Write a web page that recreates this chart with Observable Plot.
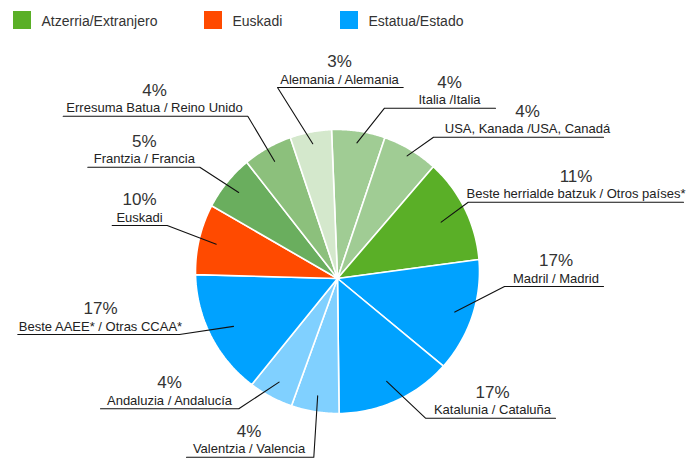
<!DOCTYPE html>
<html><head><meta charset="utf-8">
<script src="https://cdn.jsdelivr.net/npm/d3@7"></script>
<script src="https://cdn.jsdelivr.net/npm/@observablehq/plot@0.6"></script>
<style>body{margin:0;background:#fff;}</style>
</head><body><div id="chart"></div>
<script>
// ---- data ----
const names = ["Italia /Italia", "USA, Kanada /USA, Canadá", "Beste herrialde batzuk / Otros países*", "Madril / Madrid", "Katalunia / Cataluña", "Valentzia / Valencia", "Andaluzia / Andalucía", "Beste AAEE* / Otras CCAA*", "Euskadi", "Frantzia / Francia", "Erresuma Batua / Reino Unido", "Alemania / Alemania"];
const pctLabels = ["4%", "4%", "11%", "17%", "17%", "4%", "4%", "17%", "10%", "5%", "4%", "3%"];
// slice sizes as drawn in the picture (share of the circle, %)
const shares = [5.8, 6.1, 11.6, 13.1, 13.8, 5.7, 5.3, 14.6, 7.9, 6.1, 5.4, 4.5];
const sliceColors = ["#a0cc94", "#a0cc94", "#5aaf27", "#00a2ff", "#00a2ff", "#80d0ff", "#80d0ff", "#00a2ff", "#ff4a00", "#6aae5e", "#8cc07c", "#d4e8cc"];
const legendLabels = ["Atzerria/Extranjero", "Euskadi", "Estatua/Estado"];
const legendColors = ["#5aaf27", "#ff4a00", "#00a2ff"];

// ---- layout ----
const W = 696, H = 459;
const V = [337, 278];   // pie vertex
const C = [337, 271];   // outline circle centre
const R = 142;
const startDeg = -2.3;
// label layout: text centre x, underline y, underline x1/x2, elbow side, anchor distance
const labelLayout = [
  {tx: 449, yu: 107.7, x1: 384, x2: 495, side: "left", dist: 137},
  {tx: 527, yu: 136.7, x1: 433, x2: 603, side: "left", dist: 141},
  {tx: 575.5, yu: 201.7, x1: 467.7, x2: 683, side: "left", dist: 118},
  {tx: 555.5, yu: 286, x1: 504, x2: 603, side: "left", dist: 122},
  {tx: 492, yu: 417.7, x1: 425, x2: 555, side: "left", dist: 114},
  {tx: 248.5, yu: 456.7, x1: 186, x2: 313.3, side: "right", dist: 119},
  {tx: 169, yu: 408.3, x1: 100, x2: 238.3, side: "right", dist: 119},
  {tx: 100, yu: 334, x1: 17.3, x2: 179, side: "right", dist: 114.5},
  {tx: 139, yu: 225, x1: 111.7, x2: 166.7, side: "right", dist: 126},
  {tx: 143.8, yu: 166.7, x1: 87.3, x2: 199.3, side: "right", dist: 131},
  {tx: 154, yu: 115.7, x1: 62.7, x2: 247.3, side: "right", dist: 133},
  {tx: 339, yu: 87, x1: 277, x2: 402.7, side: "left", dist: 137}
];
const legendX = [13, 204, 340];

// ---- geometry ----
const total = d3.sum(shares);
let acc = startDeg;
const slices = shares.map((s, i) => {
  const a0 = acc, a1 = acc + s / total * 360; acc = a1;
  return {i, a0, a1, mid: (a0 + a1) / 2};
});
const rad = d => d * Math.PI / 180;
function hit(phiDeg) {
  const p = rad(phiDeg), d = [Math.sin(p), -Math.cos(p)];
  const w = [V[0] - C[0], V[1] - C[1]];
  const b = d[0] * w[0] + d[1] * w[1], c = w[0] * w[0] + w[1] * w[1] - R * R;
  const t = -b + Math.sqrt(b * b - c);
  return [V[0] + t * d[0], V[1] + t * d[1]];
}
const circAngle = P => Math.atan2(P[0] - C[0], -(P[1] - C[1]));
const slicePts = [];
slices.forEach(s => {
  let t0 = circAngle(hit(s.a0)), t1 = circAngle(hit(s.a1));
  while (t1 < t0) t1 += 2 * Math.PI;
  slicePts.push({k: s.i, x: V[0], y: V[1], fill: sliceColors[s.i]});
  const n = 40;
  for (let j = 0; j <= n; j++) {
    const t = t0 + (t1 - t0) * j / n;
    slicePts.push({k: s.i, x: C[0] + R * Math.sin(t), y: C[1] - R * Math.cos(t), fill: sliceColors[s.i]});
  }
});
const leaderPts = [];
const labels = slices.map(s => {
  const L = labelLayout[s.i];
  const p = rad(s.mid);
  const ax = V[0] + L.dist * Math.sin(p), ay = V[1] - L.dist * Math.cos(p);
  const far = L.side === "left" ? L.x2 : L.x1, elbow = L.side === "left" ? L.x1 : L.x2;
  leaderPts.push({k: s.i, x: far, y: L.yu}, {k: s.i, x: elbow, y: L.yu}, {k: s.i, x: ax, y: ay});
  return {name: names[s.i], pct: pctLabels[s.i], tx: L.tx, yu: L.yu};
});
const legend = legendLabels.map((l, i) => ({label: l, color: legendColors[i], x: legendX[i]}));

const chart = Plot.plot({
  width: W, height: H, margin: 0,
  x: {domain: [0, W], range: [0, W], axis: null},
  y: {domain: [0, H], range: [0, H], axis: null},
  color: {type: "identity"},
  style: {fontFamily: "'Liberation Sans', Arial, sans-serif", background: "#fff"},
  marks: [
    Plot.line(slicePts, {x: "x", y: "y", z: "k", fill: "fill", stroke: "#fff", strokeWidth: 1.6, curve: "linear-closed"}),
    Plot.line(leaderPts, {x: "x", y: "y", z: "k", stroke: "#111", strokeWidth: 1.1}),
    Plot.text(labels, {x: "tx", y: d => d.yu - 4, text: "name", textAnchor: "middle", lineAnchor: "bottom", fontSize: 13, fill: "#222"}),
    Plot.text(labels, {x: "tx", y: d => d.yu - 20.5, text: "pct", textAnchor: "middle", lineAnchor: "bottom", fontSize: 17, fill: "#333"}),
    Plot.rect(legend, {x1: "x", x2: d => d.x + 18, y1: 11, y2: 29, fill: "color"}),
    Plot.text(legend, {x: d => d.x + 28, y: 25, text: "label", textAnchor: "start", lineAnchor: "bottom", fontSize: 14, fill: "#333"})
  ]
});
document.getElementById("chart").append(chart);
</script>
</body></html>
